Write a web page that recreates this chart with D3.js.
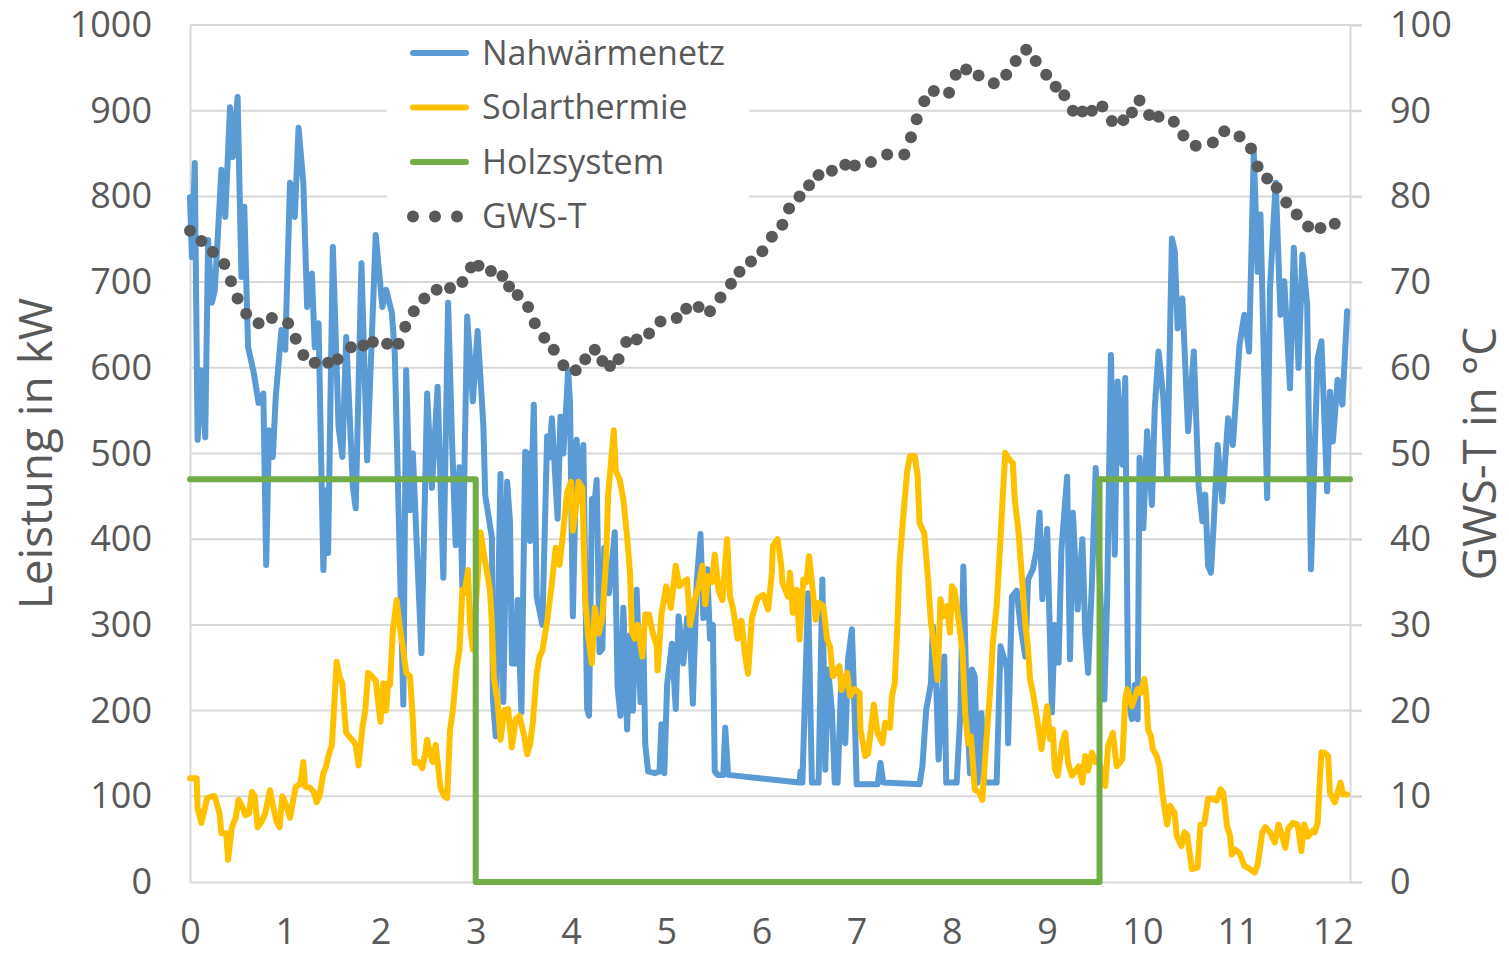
<!DOCTYPE html>
<html>
<head>
<meta charset="utf-8">
<script src="https://cdn.jsdelivr.net/npm/d3@7"></script>
<style>
  body { margin: 0; background: #fff; }
  svg text { font-family: "Open Sans", sans-serif; fill: #595959; }
</style>
</head>
<body>
<div id="chart"></div>
<script>
// Monat / Leistung in kW bzw. Temperatur in °C
const nahwaermenetz = [[0,799],[0.02,729],[0.05,839],[0.08,516],[0.12,597],[0.16,519],[0.19,749],[0.23,676],[0.26,690],[0.28,730],[0.33,831],[0.37,776],[0.42,904],[0.45,846],[0.50,916],[0.54,706],[0.57,788],[0.61,624],[0.67,594],[0.72,559],[0.77,570],[0.80,370],[0.83,527],[0.87,496],[0.90,566],[0.96,644],[1.00,621],[1.05,816],[1.10,776],[1.14,880],[1.19,816],[1.23,671],[1.28,710],[1.31,624],[1.35,652],[1.40,364],[1.43,457],[1.45,384],[1.50,741],[1.56,531],[1.60,496],[1.64,636],[1.71,461],[1.74,436],[1.80,722],[1.86,492],[1.95,755],[2.02,671],[2.06,691],[2.12,664],[2.15,617],[2.24,207],[2.27,597],[2.31,434],[2.34,500],[2.43,267],[2.49,570],[2.54,460],[2.60,578],[2.66,355],[2.71,676],[2.75,520],[2.79,393],[2.83,484],[2.86,344],[2.91,660],[2.97,561],[3.02,643],[3.08,533],[3.10,451],[3.17,402],[3.18,214],[3.21,170],[3.26,476],[3.29,210],[3.33,467],[3.36,420],[3.38,255],[3.42,255],[3.44,329],[3.48,198],[3.52,502],[3.55,500],[3.57,398],[3.61,557],[3.64,333],[3.70,300],[3.75,520],[3.77,495],[3.80,541],[3.86,424],[3.89,543],[3.92,500],[3.96,574],[3.97,598],[3.99,560],[4.02,310],[4.06,516],[4.09,450],[4.13,510],[4.17,202],[4.19,194],[4.22,447],[4.25,445],[4.27,469],[4.30,268],[4.33,272],[4.35,390],[4.40,337],[4.46,408],[4.49,227],[4.52,194],[4.55,320],[4.59,178],[4.62,288],[4.65,200],[4.69,341],[4.73,210],[4.76,288],[4.78,161],[4.81,129],[4.88,127],[4.93,129],[4.95,184],[4.98,127],[5.01,231],[5.06,278],[5.10,202],[5.13,310],[5.18,255],[5.22,308],[5.25,290],[5.28,208],[5.32,349],[5.36,406],[5.39,308],[5.43,365],[5.46,284],[5.49,300],[5.51,129],[5.54,125],[5.60,125],[5.62,180],[5.65,125],[6.40,116],[6.41,129],[6.43,116],[6.49,337],[6.53,116],[6.60,116],[6.64,353],[6.67,131],[6.70,248],[6.74,200],[6.77,116],[6.80,116],[6.84,240],[6.88,162],[6.91,260],[6.95,295],[6.98,193],[7.00,114],[7.22,114],[7.25,139],[7.28,116],[7.66,114],[7.69,135],[7.73,201],[7.78,232],[7.80,298],[7.83,250],[7.86,143],[7.89,200],[7.92,263],[7.94,116],[8.05,116],[8.09,200],[8.12,368],[8.15,232],[8.19,127],[8.21,248],[8.24,240],[8.27,116],[8.31,197],[8.34,116],[8.47,116],[8.51,275],[8.55,260],[8.58,248],[8.59,162],[8.63,333],[8.68,340],[8.72,300],[8.77,263],[8.80,353],[8.85,365],[8.89,388],[8.92,431],[8.95,330],[9.00,412],[9.05,198],[9.08,300],[9.12,256],[9.15,388],[9.21,473],[9.24,260],[9.27,431],[9.32,318],[9.37,400],[9.40,291],[9.43,244],[9.47,349],[9.51,483],[9.55,360],[9.60,213],[9.63,330],[9.67,615],[9.71,382],[9.74,584],[9.79,487],[9.82,588],[9.85,213],[9.89,190],[9.92,230],[9.95,190],[9.97,495],[10.01,413],[10.05,526],[10.10,440],[10.13,553],[10.17,619],[10.22,565],[10.26,471],[10.31,751],[10.34,736],[10.37,646],[10.42,681],[10.48,526],[10.54,619],[10.59,463],[10.63,421],[10.66,452],[10.69,369],[10.72,361],[10.75,420],[10.79,510],[10.84,444],[10.90,541],[10.95,510],[11.02,627],[11.07,662],[11.12,619],[11.17,852],[11.21,712],[11.24,779],[11.31,448],[11.34,693],[11.40,816],[11.45,662],[11.49,701],[11.55,576],[11.59,740],[11.64,600],[11.68,732],[11.73,674],[11.77,365],[11.84,611],[11.88,631],[11.94,456],[11.97,572],[12.00,514],[12.05,586],[12.10,557],[12.15,666]];

const solarthermie = [[0,121],[0.07,121],[0.08,86],[0.12,69],[0.18,98],[0.23,100],[0.26,100],[0.31,80],[0.33,57],[0.38,57],[0.40,26],[0.44,64],[0.48,75],[0.51,96],[0.55,88],[0.58,78],[0.62,80],[0.65,105],[0.68,100],[0.71,64],[0.75,70],[0.79,80],[0.84,107],[0.87,90],[0.91,70],[0.94,64],[0.97,100],[1.01,90],[1.05,75],[1.11,111],[1.16,115],[1.19,140],[1.21,111],[1.26,110],[1.30,105],[1.33,93],[1.36,100],[1.40,127],[1.43,135],[1.45,146],[1.49,160],[1.52,218],[1.54,257],[1.57,240],[1.60,232],[1.62,200],[1.64,174],[1.71,165],[1.74,160],[1.77,136],[1.81,180],[1.84,200],[1.87,244],[1.91,240],[1.95,235],[2.00,187],[2.03,232],[2.06,200],[2.08,232],[2.10,230],[2.13,294],[2.17,329],[2.20,300],[2.24,270],[2.27,244],[2.31,240],[2.34,189],[2.36,139],[2.40,140],[2.44,133],[2.47,150],[2.49,166],[2.52,150],[2.55,140],[2.58,160],[2.63,110],[2.67,100],[2.70,98],[2.73,177],[2.76,200],[2.80,250],[2.83,271],[2.86,341],[2.88,337],[2.92,364],[2.94,300],[2.97,271],[3.00,320],[3.05,408],[3.09,380],[3.12,361],[3.15,340],[3.17,300],[3.19,239],[3.23,210],[3.26,166],[3.30,200],[3.34,202],[3.38,157],[3.42,190],[3.46,194],[3.51,170],[3.54,149],[3.57,160],[3.60,186],[3.64,243],[3.67,263],[3.70,270],[3.75,304],[3.80,349],[3.84,390],[3.88,370],[3.92,410],[3.96,455],[4.00,467],[4.02,410],[4.06,443],[4.08,467],[4.12,460],[4.15,329],[4.18,288],[4.22,255],[4.25,320],[4.29,290],[4.33,308],[4.37,378],[4.39,451],[4.45,527],[4.47,480],[4.51,470],[4.55,447],[4.59,402],[4.62,361],[4.64,292],[4.67,284],[4.70,300],[4.75,263],[4.78,312],[4.82,312],[4.86,290],[4.90,276],[4.91,247],[4.95,312],[5.00,345],[5.05,320],[5.10,369],[5.14,345],[5.18,350],[5.22,353],[5.25,300],[5.30,329],[5.34,345],[5.38,369],[5.41,324],[5.44,357],[5.48,350],[5.51,382],[5.55,340],[5.59,329],[5.64,400],[5.67,333],[5.70,320],[5.75,284],[5.79,305],[5.83,263],[5.86,243],[5.90,308],[5.96,331],[6.02,335],[6.07,318],[6.11,361],[6.12,392],[6.17,400],[6.21,368],[6.22,349],[6.28,333],[6.30,361],[6.33,314],[6.37,341],[6.40,283],[6.44,353],[6.47,350],[6.50,380],[6.53,350],[6.57,306],[6.60,326],[6.65,322],[6.69,283],[6.72,275],[6.75,240],[6.78,245],[6.82,252],[6.84,224],[6.90,244],[6.93,217],[6.98,225],[7.03,221],[7.04,178],[7.09,147],[7.12,150],[7.18,207],[7.22,174],[7.27,162],[7.30,186],[7.35,180],[7.37,217],[7.40,232],[7.43,306],[7.45,372],[7.49,427],[7.53,479],[7.56,497],[7.61,497],[7.64,474],[7.66,419],[7.71,407],[7.75,353],[7.78,302],[7.81,279],[7.85,236],[7.88,330],[7.91,310],[7.95,322],[7.98,291],[8.00,345],[8.03,340],[8.06,314],[8.11,271],[8.14,197],[8.17,162],[8.20,170],[8.24,108],[8.29,104],[8.32,96],[8.36,162],[8.40,221],[8.43,279],[8.47,322],[8.50,380],[8.53,442],[8.56,501],[8.59,495],[8.64,489],[8.66,446],[8.70,408],[8.74,349],[8.77,303],[8.80,272],[8.82,237],[8.85,221],[8.89,194],[8.94,155],[9.00,205],[9.03,167],[9.06,178],[9.08,132],[9.11,124],[9.16,163],[9.19,174],[9.22,139],[9.26,124],[9.30,130],[9.33,135],[9.37,116],[9.40,147],[9.43,130],[9.47,151],[9.51,140],[9.55,139],[9.61,112],[9.64,159],[9.69,174],[9.73,135],[9.79,143],[9.82,213],[9.84,225],[9.89,205],[9.95,225],[9.98,221],[10.02,237],[10.04,220],[10.06,178],[10.09,170],[10.11,155],[10.15,147],[10.18,135],[10.21,104],[10.24,81],[10.26,67],[10.29,89],[10.34,80],[10.36,54],[10.41,42],[10.44,58],[10.47,55],[10.52,15],[10.58,17],[10.61,67],[10.65,68],[10.69,97],[10.73,97],[10.78,95],[10.82,108],[10.85,104],[10.89,65],[10.92,54],[10.94,32],[10.97,38],[11.02,34],[11.07,19],[11.13,15],[11.18,11],[11.21,20],[11.26,58],[11.29,64],[11.34,58],[11.39,46],[11.43,67],[11.47,53],[11.50,40],[11.53,62],[11.58,69],[11.63,67],[11.67,36],[11.70,67],[11.74,53],[11.79,60],[11.81,58],[11.84,69],[11.86,112],[11.88,151],[11.91,151],[11.95,147],[11.97,104],[12.02,93],[12.08,116],[12.11,102],[12.15,102]];

const holzsystem = [[0,470],[3.0,470],[3.0,0],[9.55,0],[9.55,470],[12.18,470]];

const gwsT = [[0,76.0],[0.12,74.8],[0.24,73.5],[0.36,72.1],[0.43,70.1],[0.50,68.1],[0.59,66.3],[0.72,65.2],[0.86,65.8],[1.03,65.2],[1.11,63.4],[1.19,61.5],[1.31,60.6],[1.45,60.6],[1.55,61.0],[1.69,62.4],[1.82,62.6],[1.92,63.0],[2.07,62.8],[2.19,62.8],[2.26,64.8],[2.35,66.6],[2.46,68.1],[2.59,69.1],[2.73,69.3],[2.86,70.0],[2.95,71.7],[3.03,71.9],[3.16,71.3],[3.28,70.7],[3.35,69.5],[3.44,68.5],[3.55,67.1],[3.62,65.2],[3.72,63.5],[3.82,62.1],[3.92,60.3],[4.05,59.7],[4.15,61.0],[4.25,62.1],[4.33,60.8],[4.41,60.2],[4.50,61.0],[4.58,63.0],[4.69,63.3],[4.82,64.0],[4.94,65.4],[5.11,65.8],[5.21,66.9],[5.34,67.1],[5.46,66.6],[5.57,68.2],[5.68,69.8],[5.77,71.2],[5.89,72.4],[6.01,73.6],[6.11,75.3],[6.22,76.7],[6.29,78.6],[6.40,80.0],[6.50,81.3],[6.60,82.5],[6.74,83.0],[6.88,83.7],[6.98,83.6],[7.15,84.0],[7.32,84.9],[7.50,84.9],[7.57,86.9],[7.63,89.0],[7.71,91.1],[7.81,92.3],[7.97,92.1],[8.04,94.2],[8.15,94.8],[8.28,94.1],[8.44,93.2],[8.57,94.2],[8.67,95.8],[8.78,97.1],[8.88,95.8],[8.99,94.2],[9.09,92.8],[9.18,91.8],[9.27,90.0],[9.37,89.9],[9.47,90.0],[9.58,90.5],[9.68,88.8],[9.80,88.9],[9.89,89.8],[9.97,91.2],[10.07,89.5],[10.17,89.3],[10.33,88.7],[10.43,87.1],[10.56,85.9],[10.74,86.3],[10.86,87.6],[11.02,87.0],[11.14,85.6],[11.21,83.5],[11.31,82.1],[11.41,81.0],[11.51,79.3],[11.62,77.9],[11.74,76.5],[11.87,76.3],[12.02,76.8]];

const monthTicks = d3.range(0, 13);
const kwTicks = d3.range(0, 1001, 100);
const tempTicks = d3.range(0, 101, 10);
const legendNames = ["Nahwärmenetz", "Solarthermie", "Holzsystem", "GWS-T"];
const colors = ["#5b9bd5", "#ffc000", "#70ad47", "#595959"];

const W = 1509, H = 953;
const margin = { top: 25, right: 159, bottom: 71, left: 190 };
const width = W - margin.left - margin.right;
const height = H - margin.top - margin.bottom;

const svg = d3.select("#chart").append("svg")
  .attr("width", W)
  .attr("height", H);

const g = svg.append("g")
  .attr("transform", `translate(${margin.left},${margin.top})`);

// x-Achse reicht etwas über Monat 12 hinaus (Jahresende)
const x = d3.scaleLinear().domain([0, 12.18]).range([0, width]);
const y = d3.scaleLinear().domain([0, 1000]).range([height, 0]);
const yR = d3.scaleLinear().domain([0, 100]).range([height, 0]);

// grid lines
g.append("g").selectAll("line")
  .data(kwTicks.slice(1))
  .join("line")
  .attr("x1", 0).attr("x2", width + 12)
  .attr("y1", d => y(d)).attr("y2", d => y(d))
  .attr("stroke", "#d9d9d9")
  .attr("stroke-width", 2);

// axes
const yAxis = g.append("g")
  .call(d3.axisLeft(y).tickValues(kwTicks).tickFormat(d3.format("d")).tickSize(0).tickPadding(38));
const yAxisR = g.append("g")
  .attr("transform", `translate(${width},0)`)
  .call(d3.axisRight(yR).tickValues(tempTicks).tickSize(12).tickPadding(28));
const xAxis = g.append("g")
  .attr("transform", `translate(0,${height})`)
  .call(d3.axisBottom(x).tickValues(monthTicks).tickSize(0).tickPadding(36));

[yAxis, yAxisR, xAxis].forEach(a => {
  a.selectAll("path.domain").attr("stroke", "#d9d9d9").attr("stroke-width", 2);
  a.selectAll(".tick line").attr("stroke", "#d9d9d9").attr("stroke-width", 2);
  a.selectAll("text")
    .attr("font-size", 36)
    .attr("font-family", "Open Sans, sans-serif")
    .attr("fill", "#595959");
});

// axis titles
svg.append("text")
  .attr("transform", `translate(52,${margin.top + height / 2}) rotate(-90)`)
  .attr("text-anchor", "middle")
  .attr("font-size", 46)
  .text("Leistung in kW");

svg.append("text")
  .attr("transform", `translate(1496,${margin.top + height / 2}) rotate(-90)`)
  .attr("text-anchor", "middle")
  .attr("font-size", 46)
  .text("GWS-T in °C");

// series
const line = d3.line().x(d => x(d[0])).y(d => y(d[1]));

const series = [nahwaermenetz, solarthermie, holzsystem];
series.forEach((s, i) => {
  g.append("path")
    .datum(s)
    .attr("fill", "none")
    .attr("stroke", colors[i])
    .attr("stroke-width", 6)
    .attr("stroke-linejoin", "round")
    .attr("stroke-linecap", "round")
    .attr("d", line);
});

g.append("g").selectAll("circle")
  .data(gwsT)
  .join("circle")
  .attr("cx", d => x(d[0]))
  .attr("cy", d => yR(d[1]))
  .attr("r", 6)
  .attr("fill", colors[3]);

// legend
const legend = svg.append("g");
legend.append("rect")
  .attr("x", 387).attr("y", 30)
  .attr("width", 362).attr("height", 212)
  .attr("fill", "#fff");

legendNames.forEach((name, i) => {
  const ly = 53 + i * 54.5;
  if (i < 3) {
    legend.append("line")
      .attr("x1", 413).attr("x2", 466)
      .attr("y1", ly).attr("y2", ly)
      .attr("stroke", colors[i])
      .attr("stroke-width", 6)
      .attr("stroke-linecap", "round");
  } else {
    legend.selectAll("circle.ld")
      .data([413, 435, 457])
      .join("circle")
      .attr("class", "ld")
      .attr("cx", d => d).attr("cy", ly)
      .attr("r", 6)
      .attr("fill", colors[3]);
  }
  legend.append("text")
    .attr("x", 482).attr("y", ly)
    .attr("dy", "0.35em")
    .attr("font-size", 34)
    .text(name);
});
</script>
</body>
</html>
